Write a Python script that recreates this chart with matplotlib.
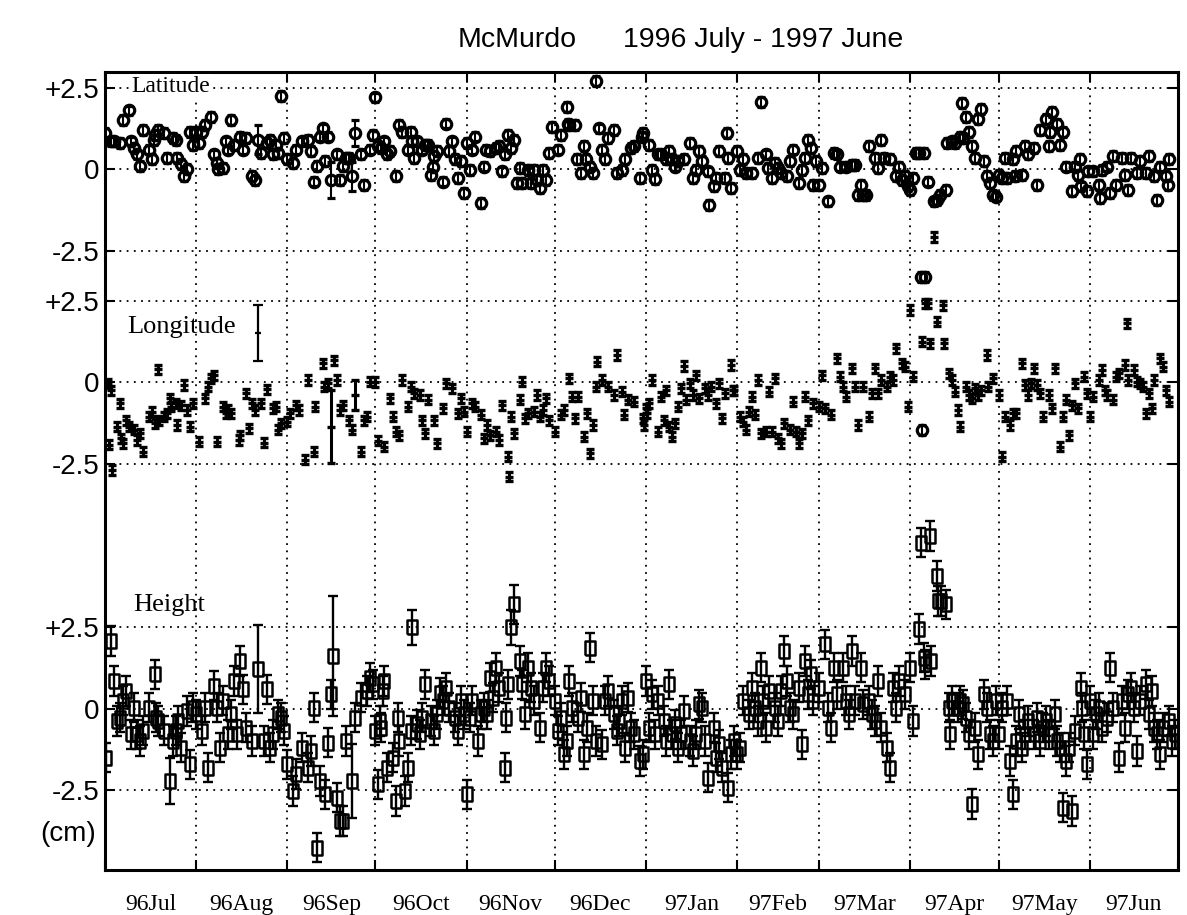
import numpy as np
import matplotlib
matplotlib.use('Agg')
import matplotlib.pyplot as plt
import matplotlib.transforms as mtransforms

# --- daily solutions, day 0 = 1996-07-01, values in cm
lat_day = [0, 2, 3, 5, 6, 8, 9, 10, 11, 12,
           13, 15, 16, 16.5, 17, 18, 20, 21, 23, 24,
           24.5, 26, 27, 28, 29, 30, 31, 32, 33, 34,
           36, 37, 38, 38.5, 40, 41, 42, 43, 44, 46,
           47, 48, 50, 51, 52, 53, 55, 56, 57, 58,
           59, 60, 61, 62, 64, 65, 67, 69, 70, 71,
           72, 73, 74, 75, 76, 77, 79, 80, 81, 82,
           83, 84, 85, 87, 88, 90, 91, 92, 93, 94,
           95, 96, 97, 99, 100, 101, 103, 104, 104.5, 105,
           106, 108, 109, 110, 111, 111.5, 112, 113, 115, 116,
           117, 118, 119, 120, 121, 122, 123, 124, 125, 126,
           128, 129, 129.5, 131, 133, 134, 135, 136, 137, 138,
           139, 140, 141, 142, 144, 145, 146, 147, 148, 149,
           150, 151, 152, 154, 155, 157, 157.5, 158, 160, 160.5,
           162, 163, 163.5, 165, 166, 167, 168, 169, 170, 171,
           173, 174, 176, 177, 179, 180, 182, 182.5, 183, 185,
           186, 187, 188, 189, 191, 192, 193, 194, 195, 197,
           199, 200, 201, 202, 203, 205, 205.5, 207, 208, 209,
           211, 211.5, 212, 213, 215, 216, 217, 218, 220, 222,
           223, 225, 225.5, 227, 228, 229, 230, 232, 233, 234,
           236, 237, 238, 239, 240, 241, 242, 243, 244, 246,
           248, 249, 250, 252, 254, 255, 256, 257, 258, 259,
           260, 262, 263, 264, 265, 267, 269, 270, 271, 272,
           273, 274, 275, 276, 277, 278.5, 277.5, 279, 278, 280,
           282, 283, 284, 286, 286.5, 288, 289, 291, 291.5, 292,
           293, 294, 295, 296, 297, 298, 299, 300, 301, 302,
           303, 304, 305, 306, 307, 309, 309.5, 310, 312, 313,
           314, 316, 317, 318, 320, 321, 321.5, 322, 324, 325,
           326, 327, 329, 330, 331, 331.5, 332, 334, 334.5, 336,
           338, 338.5, 339, 341, 342, 343, 344, 346, 347, 348,
           349, 351, 352, 354, 355, 357, 358, 359, 361, 361.5,
           362]
lat_val = [1.1, 0.85, 0.85, 0.8, 1.5, 1.8, 0.85, 0.65, 0.45, 0.1,
           1.2, 0.6, 0.3, 0.9, 1.05, 1.2, 1.1, 0.35, 0.95, 0.9,
           0.35, 0.15, -0.2, 0.0, 1.15, 0.75, 1.15, 0.8, 1.15, 1.35,
           1.6, 0.45, 0.2, 0.0, 0.03, 0.85, 0.6, 1.5, 0.75, 1.0,
           0.6, 0.95, -0.22, -0.33, 0.9, 0.5, 0.8, 0.9, 0.45, 0.75,
           0.5, 2.25, 0.95, 0.3, 0.2, 0.6, 0.85, 0.9, 0.55, -0.38,
           0.1, 1.0, 1.25, 0.25, 1.0, -0.33, 0.45, -0.33, 0.1, 0.35,
           0.35, -0.22, 1.1, 0.45, -0.48, 0.6, 1.05, 2.2, 0.7, 0.65,
           0.85, 0.45, 0.55, -0.2, 1.35, 1.15, 0.6, 1.15, 0.85, 0.35,
           0.85, 0.6, 0.75, 0.75, -0.17, 0.08, 0.4, 0.55, -0.38, 1.4,
           0.55, 0.85, 0.3, -0.28, 0.25, -0.73, 0.8, -0.02, 0.6, 1.0,
           -1.04, 0.08, 0.6, 0.55, 0.65, 0.7, -0.07, 0.45, 1.05, 0.65,
           0.9, -0.43, 0.03, -0.43, -0.02, -0.43, -0.02, -0.33, -0.58, -0.02,
           -0.33, 0.5, 1.3, 0.6, 1.05, 1.9, 1.4, 1.35, 1.35, 0.3,
           -0.12, 0.7, 0.3, 0.08, -0.12, 2.7, 1.25, 0.6, 0.3, 0.95,
           1.2, -0.12, -0.02, 0.3, 0.65, 0.7, -0.28, 1.0, 1.1, 0.75,
           -0.02, -0.3, 0.45, 0.45, 0.3, 0.55, 0.3, 0.08, 0.25, 0.3,
           0.8, -0.28, -0.02, 0.55, 0.25, -0.07, -1.09, -0.53, -0.28, 0.55,
           -0.28, 1.1, 0.35, -0.58, 0.55, -0.02, 0.3, -0.12, -0.12, 0.35,
           2.05, 0.45, 0.03, -0.28, 0.18, 0.03, -0.12, -0.22, 0.25, 0.6,
           -0.43, -0.02, 0.35, 0.9, 0.65, -0.48, 0.25, -0.48, 0.03, -0.99,
           0.5, 0.45, 0.08, 0.08, 0.13, 0.13, -0.79, -0.48, -0.79, -0.79,
           0.7, 0.35, 0.03, 0.9, 0.35, 0.3, -0.22, 0.08, -0.33, -0.22,
           -0.53, -0.63, -0.28, 0.5, 0.5, 0.5, -3.3, -3.3, -8.0, -0.38,
           -0.99, -0.94, -0.79, -0.63, 0.8, 0.85, 0.8, 1.0, 2.02, 0.95,
           1.6, 1.15, 0.7, 0.35, 1.55, 1.85, 0.25, -0.22, -0.43, -0.79,
           -0.84, -0.17, -0.28, 0.35, -0.28, 0.3, -0.22, 0.55, -0.17, 0.7,
           0.45, 0.65, -0.48, 1.2, 1.55, 0.7, 1.15, 1.75, 1.4, 0.75,
           1.15, 0.08, -0.68, 0.08, -0.17, 0.3, -0.53, -0.68, -0.07, -0.07,
           -0.48, -0.89, -0.02, 0.08, -0.73, 0.4, -0.48, 0.35, -0.17, -0.63,
           0.35, -0.12, 0.25, -0.12, 0.4, -0.22, -0.94, 0.08, -0.22, -0.48,
           0.3]

lon_day = [1, 2, 5, 1.5, 2.5, 4, 5.5, 6, 7, 8,
           10, 11, 12, 13, 15, 16, 17, 18, 18.5, 20,
           21, 22, 22.5, 24, 24.5, 26, 27, 28, 29, 30,
           32, 34, 35, 36, 37, 38, 40, 41, 42, 43,
           45.5, 46, 48, 49, 50, 51, 53, 54, 55, 57,
           58, 59, 60, 62, 63, 65, 66, 68, 71, 69,
           71.5, 74, 74.5, 76, 77, 78, 79, 80, 81, 83,
           84, 85, 87, 88, 89, 90, 92, 93, 95, 97,
           98, 99, 100, 101, 103, 104, 105, 107, 108, 109,
           110, 112, 113, 115, 116, 118, 120, 121, 122, 123,
           125, 126, 128, 129, 130, 131, 133, 134, 135, 137,
           137.5, 138, 139, 141, 142, 143, 144, 146, 147, 148,
           149, 150, 151, 153, 155, 156, 158, 159, 160, 161,
           163, 164, 165, 166, 167, 167.5, 169, 171, 173, 174,
           176, 176.5, 178, 180, 183, 183.5, 184, 186, 184.5, 185,
           188, 189, 190, 191, 192, 193, 194, 195, 196, 197,
           197.5, 199, 200, 201, 202, 204, 205, 206, 208, 209,
           210, 211, 213, 213.5, 214, 216, 217, 218, 219, 220,
           221, 222, 223, 225, 226, 227, 228, 229, 230, 231,
           233, 234, 235, 236, 237, 238, 239, 241, 243, 244,
           245, 247, 249, 250, 251, 252, 254, 255, 256, 258,
           260, 261, 262, 263, 264, 266, 267, 268, 269, 271,
           272, 273, 274, 275, 278, 279, 280, 285, 283, 280.5,
           285.5, 282, 287, 288, 289, 290, 291, 293, 294, 295,
           296, 297, 298, 300, 300.5, 302, 304, 305, 306, 308,
           309, 310, 312, 313, 314, 315, 316, 317, 318, 319,
           321, 322, 323, 325, 326, 327, 328, 329, 330, 331,
           333, 334, 335, 336, 338, 339, 340, 341, 343, 344,
           345, 347, 347.5, 348, 350, 351, 352, 353, 354, 355,
           356, 357, 359, 360, 361, 362]
lon_val = [-0.04, -0.25, -0.65, -1.93, -2.7, -1.37, -1.73, -1.88, -1.17, -1.37,
           -1.47, -1.78, -1.57, -2.14, -1.06, -0.91, -1.27, 0.39, -1.17, -1.06,
           -0.96, -0.5, -0.76, -0.65, -1.32, -0.71, -0.09, -0.86, -1.37, -0.65,
           -1.83, -0.5, -0.14, 0.11, 0.21, -1.83, -0.76, -0.96, -0.86, -0.96,
           -1.78, -1.63, -0.35, -1.42, -0.65, -0.86, -0.65, -1.86, -0.22, -0.81,
           -0.76, -1.47, -1.27, -1.22, -0.96, -0.71, -0.86, -2.39, -2.14, 0.06,
           -0.76, 0.57, -0.14, -0.04, -1.37, 0.67, 0.06, -0.86, -0.71, -1.17,
           -1.47, -0.4, -2.14, -1.17, -1.06, 0.01, 0.0, -1.8, -1.98, -0.5,
           -1.06, -1.52, -1.63, 0.06, -0.76, -0.14, -0.35, -0.4, -1.17, -1.57,
           -0.55, -1.17, -1.88, -0.81, -0.04, -0.19, -0.96, -0.5, -0.91, -1.52,
           -0.65, -0.76, -1.01, -1.73, -1.32, -1.63, -1.52, -1.78, -0.71, -2.29,
           -2.9, -1.06, -1.57, -0.55, 0.01, -1.11, -0.96, -0.91, -0.4, -1.06,
           -0.86, -0.5, -1.17, -1.52, -1.01, -0.86, 0.11, -0.45, -1.11, -0.45,
           -1.68, -0.96, -2.19, -1.32, -0.14, 0.62, 0.06, -0.14, -0.4, 0.83,
           -0.3, -1.01, -0.55, -0.6, -1.11, -1.32, -0.81, 0.06, -0.96, -0.65,
           -1.52, -0.45, -1.17, -0.25, -1.37, -1.68, -1.27, -0.76, -0.19, 0.49,
           -0.55, -0.04, -0.4, 0.21, -0.5, -0.19, -0.4, -0.14, -0.65, -0.04,
           -1.11, -0.35, 0.52, -0.25, -0.25, -1.06, -1.22, -1.47, -0.91, -0.45,
           -1.01, 0.06, -1.57, -1.52, -0.3, -1.52, 0.11, -1.73, -1.88, -1.27,
           -1.47, -0.6, -1.52, -1.88, -1.57, -0.45, -1.17, -0.65, -0.76, 0.21,
           -0.81, -1.01, 0.73, 0.16, -0.14, -0.45, 0.42, -0.14, -1.32, -0.14,
           -1.06, -0.35, 0.42, -0.35, 0.06, -0.14, 0.16, 0.06, 1.03, 0.57,
           0.47, -0.76, 2.21, 0.16, 1.24, 2.41, 2.41, 2.36, 1.85, 1.19,
           1.19, 4.45, 0.27, 0.06, -0.3, -0.86, -1.37, -0.14, -0.4, -0.5,
           -0.19, -0.4, -0.25, 0.83, -0.14, 0.11, -0.4, -2.29, -1.06, -1.32,
           -0.96, -0.96, 0.57, -0.09, -0.4, -0.04, 0.42, -0.09, -0.35, -1.06,
           -0.4, -0.81, 0.42, -1.98, -1.06, -0.55, -1.63, -0.71, -0.04, -0.81,
           0.16, -0.35, -1.06, -0.45, 0.06, 0.37, -0.25, -0.4, -0.55, 0.16,
           0.27, 0.52, 1.8, 0.06, 0.37, 0.01, -0.04, -0.14, -0.96, -0.35,
           -0.81, 0.06, 0.73, 0.47, -0.25, -0.6]

hgt_day = [0.5, 2, 3, 4, 5, 6, 7, 9, 10, 11,
           12, 13, 15, 17, 17.5, 18, 20, 22, 23, 24,
           25, 26, 28, 29, 30, 31, 33, 34, 35, 37,
           38, 39, 40, 42, 43, 44, 45, 46, 47, 48,
           50, 52, 54, 55, 56, 57, 59, 60, 61, 62,
           64, 65, 67, 69, 70, 71, 72, 73, 75, 76,
           77, 77.5, 79, 80, 81, 82, 84, 85, 87, 89,
           90, 91, 92, 93, 93.5, 94, 94.5, 95, 96, 98,
           99, 99.5, 100, 102, 103, 104, 104.5, 106, 107, 108,
           109, 111, 112, 113, 114, 115, 116, 117, 119, 120,
           121, 122, 123, 124, 125, 127, 128, 129, 130, 131,
           132, 133, 134, 136, 136.5, 137, 138, 139, 141, 142,
           143, 144, 145, 146, 148, 149, 150, 151, 153, 154,
           155, 156, 157, 158, 159, 161, 162, 163, 164, 165,
           166, 167, 169, 170, 171, 173, 174, 175, 176, 177,
           178, 179, 180, 182, 183, 184, 185, 186, 187, 188,
           190, 191, 192, 193, 194, 195, 196, 197, 199, 200,
           201, 202, 203, 204, 205, 207, 208, 209, 210, 212,
           213, 214, 215, 216, 217, 219, 220, 221, 222, 223,
           224, 225, 226, 228, 229, 230, 231, 232, 233, 234,
           236, 237, 238, 239, 240, 241, 243, 245, 246, 247,
           248, 249, 251, 252, 253, 254, 255, 257, 258, 260,
           261, 262, 263, 264, 266, 267, 268, 269, 270, 272,
           274, 275, 277, 277.5, 278.5, 279, 280.5, 281, 283, 283.5,
           284.5, 286, 287, 287.5, 288, 290, 291, 292, 293, 294,
           295, 296, 297, 299, 300, 301, 302, 303, 304, 305,
           307, 308, 309, 310, 311, 312, 313, 314, 316, 317,
           318, 319, 320, 321, 323, 324, 325, 326, 327, 328,
           329, 330, 332, 332.5, 333, 334, 335, 336, 337, 338,
           339, 341, 342, 343, 345, 346, 347, 348, 349, 350,
           351, 352, 354, 355, 356, 357, 358, 359, 360, 362,
           363, 364]
hgt_val = [-1.49, 2.09, 0.86, -0.37, -0.27, 0.25, 0.55, -0.78, 0.04, -0.78,
           -0.98, -0.67, 0.04, 1.06, -0.27, -0.37, -0.67, -2.21, -0.98, -0.67,
           -0.37, -1.19, -0.06, -1.7, 0.04, -0.16, -0.67, 0.04, -1.8, 0.71,
           0.04, -1.19, 0.25, -0.78, -0.16, 0.86, -0.78, 1.47, 0.6, -0.57,
           -0.98, 1.22, -0.98, 0.6, -1.19, -0.78, -0.16, -0.27, -0.67, -1.7,
           -2.52, -2.0, -1.19, -1.8, -1.29, 0.04, -4.25, -2.21, -2.62, -1.03,
           0.45, 1.63, -2.72, -3.44, -3.44, -0.98, -2.21, -0.27, 0.35, 0.55,
           0.96, 0.76, -0.67, -2.31, -0.37, -0.57, 0.55, 0.86, -1.8, -1.49,
           -2.82, -0.27, -0.98, -2.52, -1.8, -0.67, 2.5, -0.47, -0.78, -0.27,
           0.76, -0.37, -0.67, -0.16, 0.5, 0.25, 0.65, 0.04, -0.27, -0.67,
           0.25, -0.16, -2.62, -0.27, 0.25, -0.98, -0.16, 0.04, -0.16, 0.96,
           0.35, 1.27, 0.65, -1.8, -0.27, 0.76, 2.5, 3.21, 1.47, 0.76,
           -0.16, 1.27, 0.65, 0.25, -0.57, 0.65, 1.27, 0.86, 0.25, -0.67,
           -0.27, -1.39, -0.98, 0.86, 0.04, -0.27, 0.35, -1.39, -0.57, 1.88,
           0.25, -0.98, -1.08, 0.25, 0.55, -0.16, -0.67, -0.37, 0.25, -1.19,
           0.35, -0.57, -0.78, -1.6, -1.39, 0.86, -0.57, 0.45, -0.78, 0.25,
           -0.37, -0.98, 0.76, -0.78, -0.47, -1.19, -0.78, -0.06, -0.98, -1.29,
           -0.78, 0.14, 0.04, -0.98, -2.11, -0.57, -1.49, -1.08, -1.8, -2.41,
           -1.39, -0.98, -1.39, -1.19, 0.25, -0.16, 0.65, 0.04, -0.37, 1.27,
           0.25, -0.57, 0.55, 0.04, -0.37, 0.55, 1.78, 0.86, 0.04, -0.16,
           0.65, -1.08, 1.47, 0.45, 1.06, 0.25, 0.65, 1.98, 0.04, -0.57,
           1.27, 0.45, 1.27, 0.25, -0.16, 1.78, 0.25, 1.27, 0.14, 0.25,
           -0.16, -0.37, 0.86, -0.57, -1.19, -1.8, 0.65, 0.04, 0.86, 0.45,
           1.27, -0.37, 2.45, 5.1, 1.57, 1.37, 5.31, 1.47, 4.08, 3.31,
           3.31, 3.21, 0.04, -0.78, 0.25, 0.04, 0.25, 0.14, -0.27, -0.78,
           -2.92, -0.57, -1.39, 0.45, 0.04, -0.78, -0.98, 0.25, -0.78, 0.04,
           0.25, -1.6, -2.62, -0.98, -0.16, -1.19, -0.78, -0.37, -0.78, -0.27,
           -0.98, -0.57, -0.37, -0.78, -0.16, -0.98, -1.19, -3.03, -1.6, -1.19,
           -3.13, -0.67, 0.65, 0.04, -0.78, -1.7, 0.25, -0.78, -0.16, 0.04,
           -0.57, -0.27, 1.27, 0.04, -1.49, 0.25, -0.57, 0.45, 0.65, 0.04,
           -1.29, 0.25, 0.76, -0.16, 0.55, -0.57, -0.78, -1.39, -0.57, -0.37,
           -0.98, -0.78]

# typical formal errors and the few days with larger ones
lat_err0, lon_err0, hgt_err0 = 0.15, 0.14, 0.45
lat_big_day, lat_big_err = [52, 77, 84, 85], [0.45, 0.55, 0.45, 0.4]
lon_big_day, lon_big_err = [77, 85], [1.12, 0.45]
hgt_big_day = [22, 52, 77.5, 84, 104.5, 138, 139]
hgt_big_err = [0.7, 1.35, 1.85, 1.15, 0.55, 0.55, 0.6]

# reference error bar drawn next to the Longitude label
ref_day, ref_val, ref_err = 52, 1.5, 0.85

month_labels = ['96Jul', '96Aug', '96Sep', '96Oct', '96Nov', '96Dec',
                '97Jan', '97Feb', '97Mar', '97Apr', '97May', '97Jun']
tick_vals = [2.5, 0, -2.5]
tick_text = ['+2.5', '0', '-2.5']

# vertical offsets of the three panels (cm)
offsets = {'lat': 0.0, 'lon': -6.53, 'hgt': -16.56}


def err_array(days, default, big_days, big_errs):
    e = np.full(len(days), default)
    d = np.asarray(days, dtype=float)
    for bd, be in zip(big_days, big_errs):
        e[np.isclose(d, bd)] = be
    return e


assert len(lat_day) == len(lat_val)
assert len(lon_day) == len(lon_val)
assert len(hgt_day) == len(hgt_val)

months = np.arange('1996-07', '1997-08', dtype='datetime64[M]')
month_start = (months.astype('datetime64[D]') - np.datetime64('1996-07-01')).astype(int)
month_mid = (month_start[:-1] + month_start[1:]) / 2

fig = plt.figure(figsize=(11.87, 9.15), dpi=100)
ax = fig.add_axes([105 / 1187, 1 - 870 / 915, 1073 / 1187, 798 / 915])

# Latitude: open circles
ax.errorbar(lat_day, np.array(lat_val) + offsets['lat'],
            yerr=err_array(lat_day, lat_err0, lat_big_day, lat_big_err),
            fmt='o', ms=7.5, mfc='none', mec='black', mew=2.3,
            ecolor='black', elinewidth=1.5, capsize=3, capthick=1.5, zorder=3)

# Longitude: bars only
ax.errorbar(lon_day, np.array(lon_val) + offsets['lon'],
            yerr=err_array(lon_day, lon_err0, lon_big_day, lon_big_err),
            fmt='_', ms=6, mec='black', mew=2.4,
            ecolor='black', elinewidth=2.2, capsize=3.2, capthick=2.4, zorder=3)
ax.errorbar([ref_day], [ref_val + offsets['lon']], yerr=[ref_err],
            fmt='_', ms=5, mec='black', mew=1.6,
            ecolor='black', elinewidth=1.6, capsize=3.5, capthick=1.6, zorder=3)

# Height: open tall boxes
box = [(-0.7, -1), (0.7, -1), (0.7, 1), (-0.7, 1), (-0.7, -1)]
ax.errorbar(hgt_day, np.array(hgt_val) + offsets['hgt'],
            yerr=err_array(hgt_day, hgt_err0, hgt_big_day, hgt_big_err),
            fmt='none', ecolor='black', elinewidth=1.7, capsize=3.8,
            capthick=1.7, zorder=3)
ax.plot(hgt_day, np.array(hgt_val) + offsets['hgt'], ls='none',
        marker=box, ms=10, mfc='none', mec='black', mew=1.8, zorder=4)

serif = 'Liberation Serif'
sans = 'Liberation Sans'
ax.text(9, 2.55 + offsets['lat'], 'Latitude', family=serif, fontsize=17, va='center',
        bbox=dict(facecolor='white', edgecolor='none', pad=1), zorder=5)
ax.text(7.5, 1.7 + offsets['lon'], 'Longitude', family=serif, fontsize=19, va='center')
ax.text(9.5, 3.2 + offsets['hgt'], 'Height', family=serif, fontsize=19, va='center')

ax.set_xlim(0, 365)
ax.set_ylim(-21.5, 2.98)

yt = [v + offsets[k] for k in ('lat', 'lon', 'hgt') for v in tick_vals]
ax.set_yticks(yt)
ax.set_yticklabels(tick_text * 3, family=sans, fontsize=20)
ax.set_xticks(month_start)
ax.set_xticklabels([])
ax.set_xticks(month_mid, minor=True)
ax.set_xticklabels(month_labels, minor=True, family=serif, fontsize=17)
ax.tick_params(which='major', direction='in', length=7, width=1.5,
               top=True, right=True, pad=4)
ax.tick_params(axis='x', which='minor', length=0, pad=17)

ax.grid(True, which='major', color='black', linestyle=(0, (1, 3)), linewidth=1.3)
for s in ax.spines.values():
    s.set_linewidth(2.2)

trans = mtransforms.blended_transform_factory(ax.transAxes, ax.transData)
ax.text(-0.008, -20.4, '(cm)', transform=trans, ha='right', va='center',
        family=sans, fontsize=20)

fig.text(577 / 1187, 0.956, 'McMurdo', ha='right', va='center',
         family=sans, fontsize=20.5)
fig.text(623 / 1187, 0.956, '1996 July - 1997 June', ha='left', va='center',
         family=sans, fontsize=20.5)

fig.savefig('out.png', dpi=100)
